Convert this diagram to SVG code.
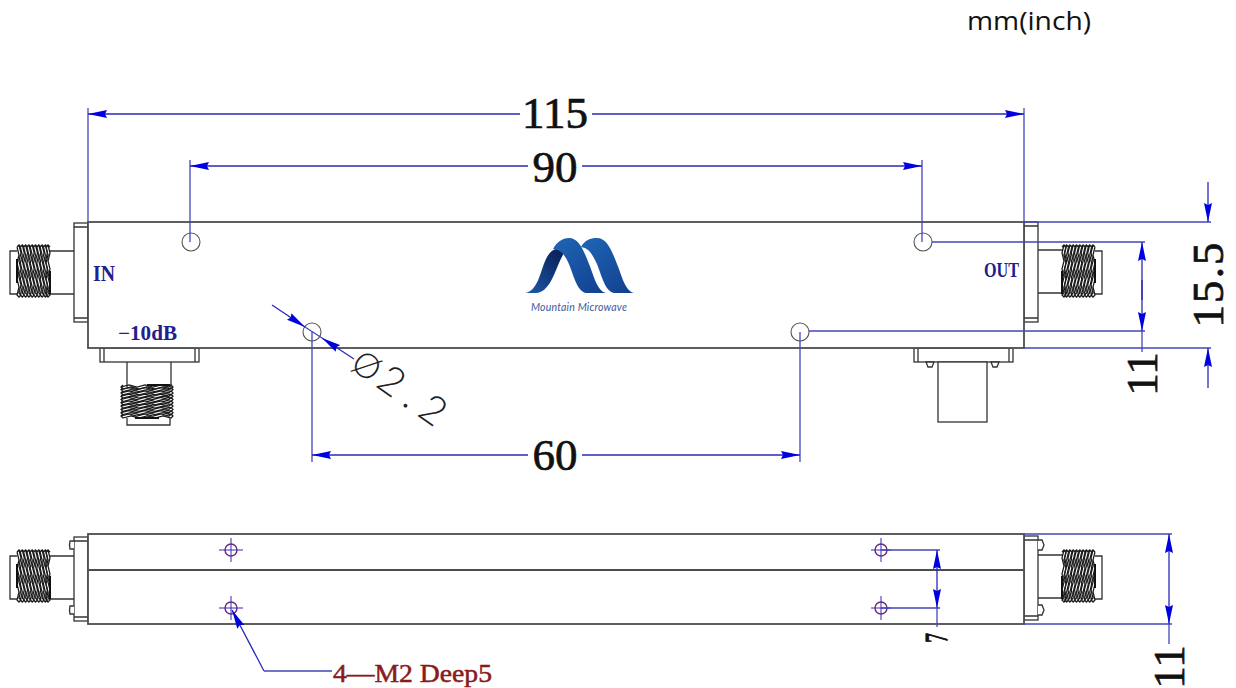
<svg xmlns="http://www.w3.org/2000/svg" width="1236" height="688" viewBox="0 0 1236 688">
<style>
.b{fill:#fff;stroke:#4d4d4d;stroke-width:1.8}
.e{fill:#fff;stroke:#333;stroke-width:1.3}
.h{fill:#fff;stroke:#555;stroke-width:1.1}
.z{fill:none;stroke:#1a1a1a;stroke-width:1.25}
.d{fill:none;stroke:#2a2ab8;stroke-width:1.3;marker-start:url(#a)}
.m{fill:none;stroke:#2a2ab8;stroke-width:1.3;marker-end:url(#a)}
.l{fill:none;stroke:#4545bb;stroke-width:1.3}
.c{fill:none;stroke:#6a2a80;stroke-width:1.4}
.x{fill:none;stroke:#3a2ab0;stroke-width:1}
.n{font-family:"Liberation Serif",serif;font-size:45px;fill:#111;stroke:#111;stroke-width:.7;text-anchor:middle}
.t{font-family:"Liberation Serif",serif;font-weight:bold;fill:#20208c}
</style>
<defs>
<marker id="a" markerUnits="userSpaceOnUse" markerWidth="20" markerHeight="10" refX="19" refY="5" orient="auto-start-reverse"><path d="M0,1 L2,5 L0,9 L19,5Z" fill="#0000e0"/></marker>
<path id="wa" class="z" d="M0,0l2,-2 2,2M0,0l2,8-2,8 2,8-2,8 2,8-2,8 2,2 2,-2-2,-2 2,-8-2,-8 2,-8-2,-8 2,-8-2,-8"/>
<g id="thread">
<use href="#wa" x="0"/><use href="#wa" x="3.3"/><use href="#wa" x="6.6"/><use href="#wa" x="9.9"/><use href="#wa" x="13.2"/><use href="#wa" x="16.5"/><use href="#wa" x="19.8"/><use href="#wa" x="23.1"/><use href="#wa" x="26.4"/><use href="#wa" x="29"/>
<path d="M0,12V36M33,24V47" fill="none" stroke="#111" stroke-width="2"/>
</g>
<g id="coax">
<path class="e" d="M8,6H1V49H8" fill="none"/>
<use href="#thread" x="8" y="2"/>
</g>
<linearGradient id="w1" x1="0" y1="1" x2="1" y2="0"><stop offset="0" stop-color="#1d5aa8"/><stop offset="1" stop-color="#081a52"/></linearGradient>
<linearGradient id="w2" x1="0" y1="0" x2="1" y2="1"><stop offset="0" stop-color="#1f66b5"/><stop offset="1" stop-color="#123f8f"/></linearGradient>
</defs>
<rect width="1236" height="688" fill="#fff"/>

<g id="top-view">
<rect class="e" x="74" y="223" width="14" height="99"/>
<path class="e" d="M74,227H88M74,318H88"/>
<rect class="e" x="1024" y="222" width="14" height="100"/>
<path class="e" d="M1024,226H1038M1024,318H1038"/>
<rect class="e" x="100" y="348" width="99" height="14"/>
<path class="e" d="M104,348V362M195,348V362"/>
<rect class="e" x="914" y="348" width="99" height="14"/>
<path class="e" d="M918,348V362M1009,348V362"/>
<rect class="b" x="88" y="222" width="936" height="126"/>
</g>
<g id="connector-in"><path class="e" d="M49,251H74M49,294H74"/><use href="#coax" x="9" y="245"/></g>
<g id="connector-out"><path class="e" d="M1038,250H1063M1038,293H1063"/><use href="#coax" transform="translate(1103,245) scale(-1,1)"/></g>
<g id="connector-10db"><path class="e" d="M127,362V387M171,362V387"/><use href="#coax" transform="translate(121,426) rotate(-90)"/></g>
<g id="termination"><path class="e" d="M926,362H934L932,367H928ZM991,362H999L997,367H993Z"/><rect class="e" x="938" y="362" width="49" height="60"/></g>

<g id="logo">
<path d="M525,293C538,291 540,272 546,259C551,249 556,247 566,250C560,258 556,272 551,281C547,288 542,293 536,293Z" fill="url(#w1)"/>
<path d="M553,249C557,242 562,238 569,238C579,238 584,251 589,264C594,276 597,291 606,293L586,293C576,291 573,272 568,262C564,254 561,250 553,249Z" fill="url(#w2)"/>
<path d="M581,247C585,240 590,238 597,238C607,238 612,251 617,264C622,276 625,291 634,293L614,293C604,291 601,272 596,262C592,254 589,248 581,247Z" fill="url(#w2)"/>
<text x="579" y="311" font-family="Lato,sans-serif" font-size="10.5" font-style="italic" fill="#3a5aa0" text-anchor="middle" textLength="96">Mountain Microwave</text>
</g>

<g id="holes-top">
<circle class="h" cx="191" cy="242" r="9"/><circle class="h" cx="923" cy="242" r="9"/>
<circle class="h" cx="312" cy="332" r="9"/><circle class="h" cx="800" cy="332" r="9"/>
</g>

<g id="side-view">
<rect class="e" x="74" y="537" width="14" height="84"/>
<path class="e" d="M74,541H88M74,617H88"/>
<rect class="e" x="1024" y="536" width="14" height="84"/>
<path class="e" d="M1024,540H1038M1024,616H1038"/>
<path class="e" d="M74,541H70Q69,545 70,549H74M74,606H70Q69,610 70,614H74"/>
<path class="e" d="M1038,540H1042L1044,545 1042,550H1038M1038,605H1042L1044,610 1042,615H1038"/>
<rect class="b" x="88" y="534" width="936" height="90"/>
<path class="b" d="M88,570H1024"/>
</g>
<g id="connector-side-left"><path class="e" d="M49,556H74M49,599H74"/><use href="#coax" x="9" y="550"/></g>
<g id="connector-side-right"><path class="e" d="M1038,555H1063M1038,598H1063"/><use href="#coax" transform="translate(1103,550) scale(-1,1)"/></g>
<g id="holes-side">
<circle class="c" cx="231" cy="550" r="6"/><path class="x" d="M219,550H243M231,538V562"/>
<circle class="c" cx="231" cy="608" r="6"/><path class="x" d="M219,608H243M231,596V620"/>
<circle class="c" cx="881" cy="550" r="6"/><path class="x" d="M871,550H891M881,538V562"/>
<circle class="c" cx="881" cy="608" r="6"/><path class="x" d="M871,608H891M881,596V620"/>
</g>

<g id="connectors">
<path class="l" d="M88,108V222M1024,108V222M190,160V242M922,160V242M312,332V462M800,332V462"/>
<path class="l" d="M1024,222H1211M1024,348H1211M932,242H1145M809,331H1145"/>
<path class="l" d="M881,550H940M881,608H940M1024,534H1172M1024,624H1172"/>
<path class="d" d="M88,114H520"/><path class="d" d="M1024,114H592"/>
<path class="d" d="M190,166H528"/><path class="d" d="M922,166H582"/>
<path class="d" d="M312,455H528"/><path class="d" d="M800,455H582"/>
<path class="m" d="M1208,182V222"/><path class="m" d="M1208,388V348"/>
<path class="m" d="M1142,300V242"/><path class="m" d="M1142,280V331"/><path class="l" d="M1142,331V352"/>
<path class="m" d="M937,580V550"/><path class="m" d="M937,580V608"/><path class="l" d="M937,608V627"/>
<path class="m" d="M1169,580V534"/><path class="m" d="M1169,580V624"/><path class="l" d="M1169,624V644"/>
<path class="m" d="M272,305L305,327"/><path class="m" d="M354,359L322,338"/><path class="l" d="M305,327L322,338"/>
<path class="m" d="M264,671L232,610"/><path class="l" d="M264,671H332"/>
</g>

<g id="labels">
<text x="967" y="30" font-family="'Open Sans',sans-serif" font-size="26" fill="#111" textLength="124" lengthAdjust="spacingAndGlyphs">mm(inch)</text>
<text class="n" x="555" y="128">115</text>
<text class="n" x="555" y="182">90</text>
<text class="n" x="555" y="470">60</text>
<text class="n" transform="translate(1223,285) rotate(-90)" textLength="85">15.5</text>
<text class="n" transform="translate(1157,374) rotate(-90)">11</text>
<text class="n" transform="translate(1184,667) rotate(-90)">11</text>
<text class="n" transform="translate(947,638) rotate(-90) scale(0.6,1)" style="font-size:32px;stroke-width:1.2">7</text>
<text transform="translate(349,368) rotate(35)" font-family="Lato,sans-serif" font-weight="300" font-size="40" fill="#222" letter-spacing="9"><tspan font-size="34" letter-spacing="4">Ø</tspan>2.2</text>
<text class="t" x="93" y="281" font-size="23" textLength="22" lengthAdjust="spacingAndGlyphs">IN</text>
<text class="t" x="984" y="277" font-size="22" textLength="35" lengthAdjust="spacingAndGlyphs">OUT</text>
<text class="t" x="118" y="340" font-size="20" textLength="59" lengthAdjust="spacingAndGlyphs">−10dB</text>
<text x="333" y="682" font-family="'Liberation Serif',serif" font-size="25" fill="#8b1a1a" stroke="#8b1a1a" stroke-width=".5" textLength="159" lengthAdjust="spacingAndGlyphs">4—M2 Deep5</text>
</g>
</svg>
